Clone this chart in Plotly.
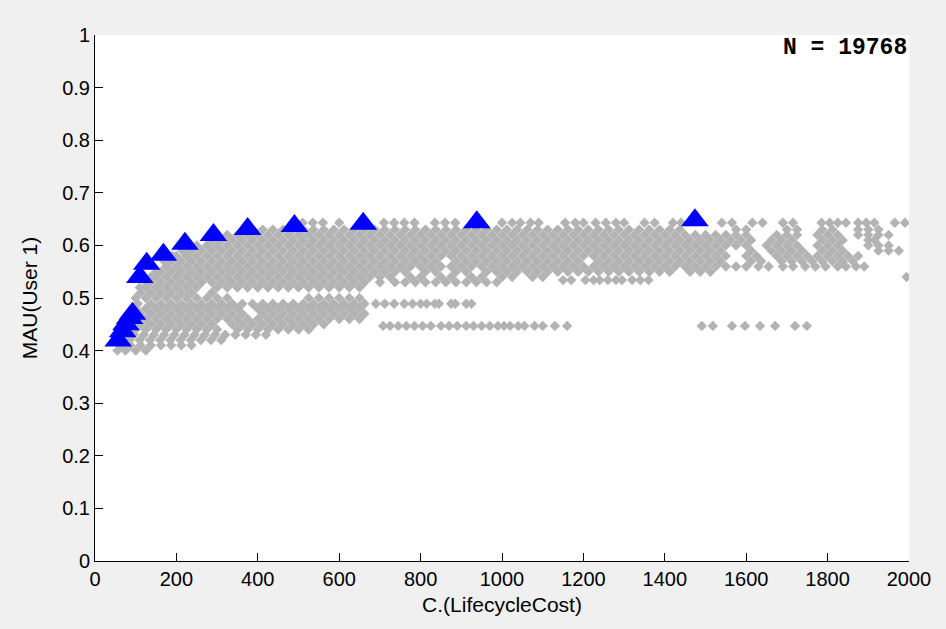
import plotly.graph_objects as go

# ---------------- data ----------------
x_tick_vals = [0, 200, 400, 600, 800, 1000, 1200, 1400, 1600, 1800, 2000]
y_tick_vals = [0, 0.1, 0.2, 0.3, 0.4, 0.5, 0.6, 0.7, 0.8, 0.9, 1]
y_tick_text = ["0", "0.1", "0.2", "0.3", "0.4", "0.5", "0.6", "0.7", "0.8", "0.9", "1"]

# Pareto-front designs (blue triangles)
pareto_cost = [57, 68, 76, 85, 92, 110, 127, 168, 221, 291, 375, 490, 659, 938, 1474]
pareto_mau = [0.419, 0.437, 0.450, 0.462, 0.470, 0.540, 0.565, 0.582, 0.603,
              0.620, 0.631, 0.637, 0.641, 0.644, 0.648]

# Tradespace designs (grey diamonds), one list of costs per MAU level
cost_at_0400 = [55, 75, 100, 125]
cost_at_0410 = [62, 87, 112, 137, 162, 187, 212, 237]
cost_at_0420 = [65, 85, 110, 135, 160, 185, 210, 235, 260, 285, 310]
cost_at_0430 = [70, 95, 120, 145, 170, 195, 220, 245, 270, 295, 320, 345, 370, 395, 420]
cost_at_0440 = [75, 100, 125, 150, 175, 200, 225, 250, 275, 300, 350, 375, 400, 425, 450,
                475, 500, 525]
cost_at_0447 = [708, 725, 745, 765, 785, 805, 825, 850, 870, 890, 912, 930, 950, 970, 990,
                1005, 1020, 1040, 1055, 1080, 1100, 1130, 1160,
                1491, 1518, 1565, 1597, 1634, 1671, 1720, 1749]
cost_at_0450 = [85, 112, 137, 162, 187, 212, 237, 262, 287, 337, 362, 387, 412, 437, 462,
                487, 512, 537, 562]
cost_at_0460 = [100, 125, 150, 175, 200, 225, 250, 275, 300, 325, 350, 375, 400, 425, 450,
                475, 500, 525, 550, 575, 600, 625, 650]
cost_at_0470 = [100, 112, 137, 162, 187, 212, 237, 262, 287, 312, 337, 362, 412, 437, 462,
                487, 512, 537, 562, 587, 612, 637, 662]
cost_at_0480 = [100, 125, 150, 175, 200, 225, 250, 275, 300, 325, 350, 400, 425, 450, 475,
                500, 525, 550, 575, 600, 625, 650]
cost_at_0489 = [105, 137, 162, 187, 212, 237, 262, 287, 312, 337, 362, 387, 412, 437, 462,
                487, 512, 537, 562, 587, 612, 637, 662, 690, 712, 735, 760, 780, 800, 815,
                835, 845, 875, 885, 912, 925]
cost_at_0500 = [100, 125, 150, 175, 200, 225, 250, 275, 300, 325, 525, 550, 575, 600, 625, 650]
cost_at_0510 = [112, 137, 162, 187, 212, 237, 287]
cost_at_0520 = [110, 125, 150, 175, 200, 225, 250, 300, 325, 350, 375, 400, 425, 450, 475,
                500, 525, 550, 575, 600, 625, 650]
cost_at_0530 = [125, 137, 162, 187, 212, 237, 262, 287, 312, 337, 362, 387, 412, 437, 462,
                487, 512, 537, 562, 587, 612, 637, 662, 700, 737, 762, 787, 812, 837, 862,
                887, 912, 937, 962, 987]
cost_at_0534 = [1150, 1170, 1205, 1225, 1240, 1260, 1280, 1295, 1320, 1340, 1360]
cost_at_0540 = [137, 150, 175, 200, 225, 250, 275, 300, 325, 350, 375, 400, 425, 450, 475,
                500, 525, 550, 575, 600, 625, 650, 675, 700, 725, 775, 800, 850, 875, 925,
                950, 1000, 1025, 1075, 1100, 1994]
cost_at_0550 = [150, 162, 187, 212, 237, 262, 287, 312, 337, 362, 387, 412, 437, 462, 487,
                512, 537, 562, 587, 612, 637, 662, 687, 712, 737, 762, 812, 837, 887, 912,
                962, 987, 1012, 1037, 1062, 1087, 1112, 1137, 1162, 1187, 1212, 1237, 1262,
                1287, 1312, 1337, 1362, 1387, 1412, 1462, 1487, 1512]
cost_at_0560 = [175, 200, 225, 250, 275, 300, 325, 350, 375, 400, 425, 450, 475, 500, 525,
                550, 575, 600, 625, 650, 675, 700, 725, 750, 775, 800, 825, 850, 875, 900,
                925, 950, 975, 1000, 1025, 1050, 1075, 1100, 1125, 1150, 1175, 1200, 1225,
                1250, 1275, 1300, 1325, 1350, 1375, 1400, 1425, 1450, 1475, 1500, 1525,
                1550, 1575, 1600, 1630, 1655, 1690, 1715, 1745, 1770, 1795, 1825, 1845,
                1870, 1890]
cost_at_0570 = [170, 187, 212, 237, 262, 287, 312, 337, 362, 387, 412, 437, 462, 487, 512,
                537, 562, 587, 612, 637, 662, 687, 712, 737, 762, 787, 812, 837, 887, 912,
                937, 962, 987, 1012, 1037, 1062, 1087, 1112, 1137, 1162, 1187, 1237, 1262,
                1287, 1312, 1337, 1362, 1387, 1412, 1437, 1462, 1487, 1512, 1537, 1612,
                1637, 1687, 1712, 1737, 1762, 1787, 1812, 1837, 1862]
cost_at_0580 = [190, 200, 225, 250, 275, 300, 325, 350, 375, 400, 425, 450, 475, 500, 525,
                550, 575, 600, 625, 650, 675, 700, 725, 750, 775, 800, 825, 850, 875, 900,
                925, 950, 975, 1000, 1025, 1050, 1075, 1100, 1125, 1150, 1175, 1200, 1225,
                1250, 1275, 1300, 1325, 1350, 1375, 1400, 1425, 1450, 1475, 1500, 1525,
                1550, 1600, 1625, 1675, 1700, 1725, 1750, 1775, 1800, 1825, 1850, 1875]
cost_at_0590 = [215, 237, 262, 287, 312, 337, 362, 387, 412, 437, 462, 487, 512, 537, 562,
                587, 612, 637, 662, 687, 712, 737, 762, 787, 812, 837, 862, 887, 912, 937,
                962, 987, 1012, 1037, 1062, 1087, 1112, 1137, 1162, 1187, 1212, 1237, 1262,
                1287, 1312, 1337, 1362, 1387, 1412, 1437, 1462, 1487, 1512, 1537, 1612,
                1662, 1687, 1712, 1737, 1787, 1812, 1837, 1925, 1950, 1975]
cost_at_0600 = [250, 275, 300, 325, 350, 375, 400, 425, 450, 475, 500, 525, 550, 575, 600,
                625, 650, 675, 700, 725, 750, 775, 800, 825, 850, 875, 900, 925, 950, 975,
                1000, 1025, 1050, 1075, 1100, 1125, 1150, 1175, 1200, 1225, 1250, 1275,
                1300, 1325, 1350, 1375, 1400, 1425, 1450, 1475, 1500, 1525, 1550, 1575,
                1600, 1650, 1675, 1700, 1725, 1775, 1800, 1825, 1900, 1925, 1950]
cost_at_0610 = [287, 312, 337, 362, 387, 412, 437, 462, 487, 512, 537, 562, 587, 612, 637,
                662, 687, 712, 737, 762, 787, 812, 837, 862, 887, 912, 937, 962, 987, 1012,
                1037, 1062, 1087, 1112, 1137, 1162, 1187, 1212, 1237, 1262, 1287, 1312,
                1337, 1362, 1387, 1412, 1437, 1462, 1487, 1512, 1537, 1562, 1587, 1612,
                1662, 1687, 1712, 1787, 1812, 1837, 1900, 1915]
cost_at_0620 = [325, 350, 375, 400, 425, 450, 475, 500, 525, 550, 575, 600, 625, 650, 675,
                700, 725, 750, 775, 800, 825, 850, 875, 900, 925, 950, 975, 1000, 1025,
                1050, 1075, 1100, 1125, 1150, 1175, 1200, 1225, 1250, 1275, 1300, 1325,
                1350, 1375, 1400, 1425, 1450, 1475, 1500, 1525, 1550, 1575, 1600, 1675,
                1700, 1725, 1775, 1800, 1825, 1875, 1900, 1925, 1950]
cost_at_0630 = [387, 412, 437, 462, 487, 512, 537, 562, 587, 612, 637, 662, 687, 712, 737,
                762, 787, 812, 837, 862, 887, 912, 937, 962, 987, 1012, 1037, 1062, 1087,
                1112, 1137, 1162, 1187, 1212, 1237, 1262, 1287, 1312, 1337, 1362, 1387,
                1412, 1437, 1575, 1600, 1700, 1725, 1787, 1812, 1875, 1900, 1925]
cost_at_0643 = [510, 535, 560, 600, 710, 735, 760, 785, 835, 860, 885, 1000, 1025, 1045,
                1070, 1090, 1155, 1180, 1200, 1230, 1255, 1280, 1300, 1350, 1375, 1420,
                1440, 1540, 1565, 1615, 1640, 1690, 1715, 1785, 1805, 1825, 1845, 1875,
                1895, 1915, 1965, 1990]

mau_levels = [0.400, 0.410, 0.420, 0.430, 0.440, 0.447, 0.450, 0.460, 0.470, 0.480,
              0.489, 0.500, 0.510, 0.520, 0.530, 0.534, 0.540, 0.550, 0.560, 0.570,
              0.580, 0.590, 0.600, 0.610, 0.620, 0.630, 0.643]
cost_rows = [cost_at_0400, cost_at_0410, cost_at_0420, cost_at_0430, cost_at_0440,
             cost_at_0447, cost_at_0450, cost_at_0460, cost_at_0470, cost_at_0480,
             cost_at_0489, cost_at_0500, cost_at_0510, cost_at_0520, cost_at_0530,
             cost_at_0534, cost_at_0540, cost_at_0550, cost_at_0560, cost_at_0570,
             cost_at_0580, cost_at_0590, cost_at_0600, cost_at_0610, cost_at_0620,
             cost_at_0630, cost_at_0643]

n_label = "N = 19768"

# ---------------- build figure ----------------
all_cost = []
all_mau = []
for level, row in zip(mau_levels, cost_rows):
    all_cost.extend(row)
    all_mau.extend([level] * len(row))

fig = go.Figure()
fig.add_trace(go.Scatter(
    x=all_cost, y=all_mau, mode="markers",
    marker=dict(symbol="diamond", size=8, color="#b3b3b3", line=dict(width=0)),
    hoverinfo="x+y", showlegend=False))
fig.add_trace(go.Scatter(
    x=pareto_cost, y=pareto_mau, mode="markers",
    marker=dict(symbol="triangle-up", size=24, color="#0000ff", line=dict(width=0)),
    showlegend=False))

font_main = "Liberation Sans, Arial, sans-serif"
axis_common = dict(
    showgrid=False, zeroline=False, showline=True, linecolor="black", linewidth=1,
    ticks="inside", ticklen=8, tickwidth=1, tickcolor="black",
    tickfont=dict(family=font_main, size=20, color="black"), mirror=False,
)
fig.update_xaxes(range=[0, 2000], tickvals=x_tick_vals,
                 ticktext=[str(v) for v in x_tick_vals],
                 title=dict(text="C.(LifecycleCost)", standoff=8,
                            font=dict(family=font_main, size=21, color="black")),
                 **axis_common)
fig.update_yaxes(range=[0, 1], tickvals=y_tick_vals, ticktext=y_tick_text,
                 title=dict(text="MAU(User 1)", standoff=18,
                            font=dict(family=font_main, size=21, color="black")),
                 **axis_common)

fig.add_annotation(text="<b>" + n_label + "</b>", xref="paper", yref="paper",
                   x=1.0, y=0.975, xanchor="right", yanchor="middle", showarrow=False,
                   font=dict(family="Liberation Mono, Courier New, monospace", size=23,
                             color="black"))

fig.update_layout(
    width=946, height=629,
    margin=dict(l=95, r=37, t=35, b=68, autoexpand=False),
    paper_bgcolor="#f0f0f0", plot_bgcolor="white",
)

fig.write_html("out.html",
               config={"displayModeBar": False},
               post_script="document.body.style.margin='0';"
                           "document.body.style.background='#f0f0f0';")
